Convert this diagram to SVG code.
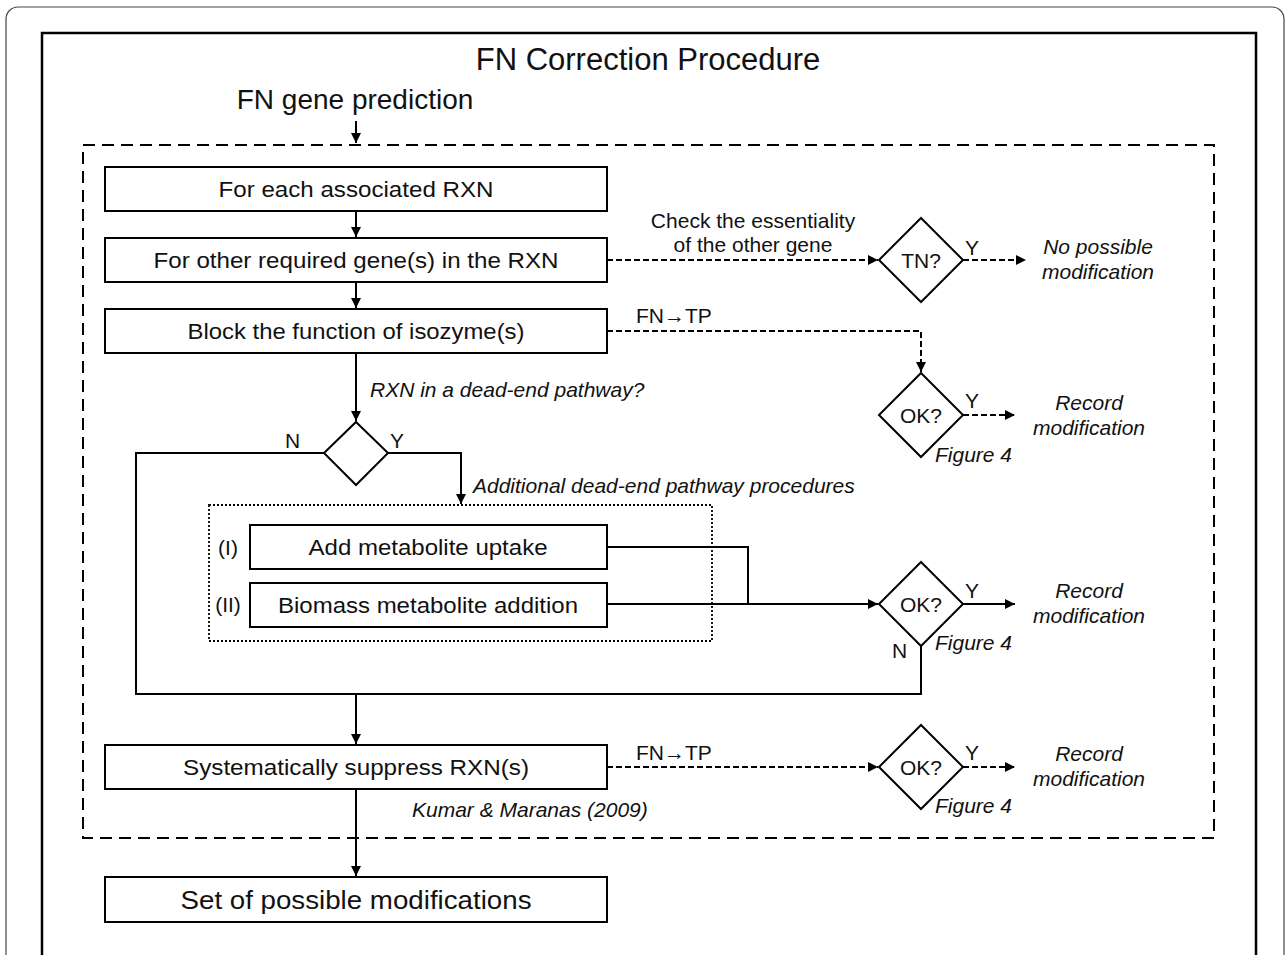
<svg xmlns="http://www.w3.org/2000/svg" width="1287" height="955" viewBox="0 0 1287 955">
<defs>
<marker id="ah" viewBox="0 0 10 10" refX="10" refY="5" markerWidth="10" markerHeight="10" markerUnits="userSpaceOnUse" orient="auto">
<path d="M0,0 L10,5 L0,10 z" fill="#000"/>
</marker>
</defs>
<style>
text{font-family:"Liberation Sans",Arial,sans-serif;fill:#111}
.box{fill:#fff;stroke:#000;stroke-width:2}
.dia{fill:#fff;stroke:#000;stroke-width:2}
.bt{font-size:22.5px;text-anchor:middle}
.big{font-size:25.5px}
.it{font-style:italic;font-size:21px}
.lbl{font-size:21px}
.sol{fill:none;stroke:#000;stroke-width:2}
.dsh{fill:none;stroke:#000;stroke-width:2;stroke-dasharray:6,3}
</style>
<rect x="6" y="7" width="1278" height="1000" rx="12" fill="none" stroke="#444" stroke-width="1.2"/>
<rect x="42" y="33" width="1214" height="1000" fill="none" stroke="#000" stroke-width="2.5"/>
<text x="648" y="70" font-size="31" text-anchor="middle">FN Correction Procedure</text>
<text x="355" y="109" font-size="28" text-anchor="middle">FN gene prediction</text>
<rect x="83" y="145" width="1131" height="693" fill="none" stroke="#000" stroke-width="2" stroke-dasharray="12,7"/>
<rect x="209" y="505" width="503" height="136" fill="none" stroke="#000" stroke-width="1.8" stroke-dasharray="2,2"/>
<g id="connectors">
<path class="sol" d="M356,121 V143" marker-end="url(#ah)"/>
<path class="sol" d="M356,211 V237" marker-end="url(#ah)"/>
<path class="sol" d="M356,282 V308" marker-end="url(#ah)"/>
<path class="sol" d="M356,353 V421" marker-end="url(#ah)"/>
<path class="sol" d="M388,453 H461 V504" marker-end="url(#ah)"/>
<path class="sol" d="M607,547 H748 V604"/>
<path class="sol" d="M607,604 H878" marker-end="url(#ah)"/>
<path class="sol" d="M963,604 H1015" marker-end="url(#ah)"/>
<path class="sol" d="M921,646 V694 H136 V453 H324"/>
<path class="sol" d="M356,694 V744" marker-end="url(#ah)"/>
<path class="sol" d="M356,789 V876" marker-end="url(#ah)"/>
<path class="dsh" d="M607,260 H878" marker-end="url(#ah)"/>
<path class="dsh" d="M963,260 H1026" marker-end="url(#ah)"/>
<path class="dsh" d="M607,331 H921 V372" marker-end="url(#ah)"/>
<path class="dsh" d="M963,415 H1015" marker-end="url(#ah)"/>
<path class="dsh" d="M607,767 H878" marker-end="url(#ah)"/>
<path class="dsh" d="M963,767 H1015" marker-end="url(#ah)"/>
</g>
<g id="n1"><rect class="box" x="105" y="167" width="502" height="44"/><text class="bt" x="356" y="197" textLength="275" lengthAdjust="spacingAndGlyphs">For each associated  RXN</text></g>
<g id="n2"><rect class="box" x="105" y="238" width="502" height="44"/><text class="bt" x="356" y="268" textLength="405" lengthAdjust="spacingAndGlyphs">For other required gene(s) in the RXN</text></g>
<g id="n3"><rect class="box" x="105" y="309" width="502" height="44"/><text class="bt" x="356" y="339" textLength="337" lengthAdjust="spacingAndGlyphs">Block the function of isozyme(s)</text></g>
<g id="d0"><path class="dia" d="M356,422 L388,453 L356,485 L324,453 Z"/></g>
<g id="n4"><rect class="box" x="250" y="525" width="357" height="44"/><text class="bt" x="428" y="555" textLength="239" lengthAdjust="spacingAndGlyphs">Add metabolite uptake</text></g>
<g id="n5"><rect class="box" x="250" y="583" width="357" height="44"/><text class="bt" x="428" y="613" textLength="300" lengthAdjust="spacingAndGlyphs">Biomass metabolite addition</text></g>
<g id="n6"><rect class="box" x="105" y="745" width="502" height="44"/><text class="bt" x="356" y="775" textLength="346" lengthAdjust="spacingAndGlyphs">Systematically suppress RXN(s)</text></g>
<g id="n7"><rect class="box" x="105" y="877" width="502" height="45"/><text class="bt big" x="356" y="909" textLength="351" lengthAdjust="spacingAndGlyphs">Set of possible modifications</text></g>
<g id="dTN"><path class="dia" d="M921,218 L963,260 L921,302 L879,260 Z"/><text class="lbl" x="921" y="268" text-anchor="middle">TN?</text></g>
<g id="dOK1"><path class="dia" d="M921,373 L963,415 L921,457 L879,415 Z"/><text class="lbl" x="921" y="423" text-anchor="middle">OK?</text></g>
<g id="dOK2"><path class="dia" d="M921,562 L963,604 L921,646 L879,604 Z"/><text class="lbl" x="921" y="612" text-anchor="middle">OK?</text></g>
<g id="dOK3"><path class="dia" d="M921,725 L963,767 L921,809 L879,767 Z"/><text class="lbl" x="921" y="775" text-anchor="middle">OK?</text></g>
<g id="labels">
<text class="lbl" x="753" y="228" text-anchor="middle">Check the essentiality</text>
<text class="lbl" x="753" y="252" text-anchor="middle">of the other gene</text>
<text class="lbl" x="965" y="255">Y</text>
<text class="it" x="1098" y="254" text-anchor="middle">No possible</text>
<text class="it" x="1098" y="279" text-anchor="middle">modification</text>
<text class="lbl" x="636" y="323">FN→TP</text>
<text class="lbl" x="965" y="408">Y</text>
<text class="it" x="1089" y="410" text-anchor="middle">Record</text>
<text class="it" x="1089" y="435" text-anchor="middle">modification</text>
<text class="it" x="935" y="462">Figure 4</text>
<text class="it" x="370" y="397">RXN in a dead-end pathway?</text>
<text class="lbl" x="285" y="448">N</text>
<text class="lbl" x="390" y="448">Y</text>
<text class="it" x="473" y="493">Additional dead-end pathway procedures</text>
<text class="lbl" x="228" y="555" text-anchor="middle">(I)</text>
<text class="lbl" x="228" y="612" text-anchor="middle">(II)</text>
<text class="lbl" x="965" y="598">Y</text>
<text class="it" x="1089" y="598" text-anchor="middle">Record</text>
<text class="it" x="1089" y="623" text-anchor="middle">modification</text>
<text class="it" x="935" y="650">Figure 4</text>
<text class="lbl" x="892" y="658">N</text>
<text class="lbl" x="636" y="760">FN→TP</text>
<text class="lbl" x="965" y="760">Y</text>
<text class="it" x="1089" y="761" text-anchor="middle">Record</text>
<text class="it" x="1089" y="786" text-anchor="middle">modification</text>
<text class="it" x="935" y="813">Figure 4</text>
<text class="it" x="412" y="817">Kumar &amp; Maranas (2009)</text>
</g>
</svg>
